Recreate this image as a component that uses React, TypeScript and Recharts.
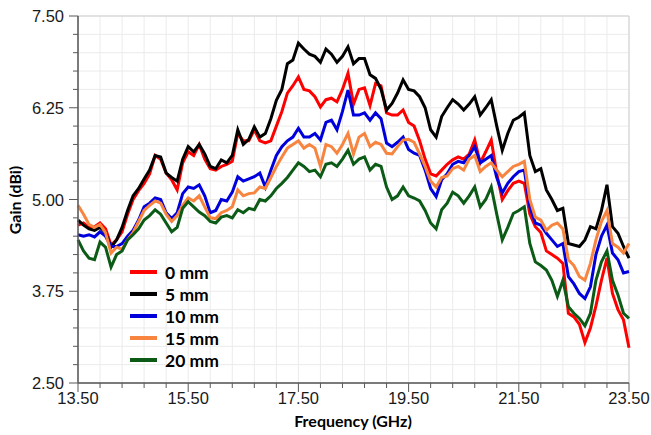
import { CartesianGrid, Legend, Line, LineChart, XAxis, YAxis } from "recharts";

const freq = [
  13.5, 13.6, 13.7, 13.8, 13.9, 14.0, 14.1, 14.2, 14.3, 14.4, 14.5, 14.6, 14.7, 14.8, 14.9,
  15.0, 15.1, 15.2, 15.3, 15.4, 15.5, 15.6, 15.7, 15.8, 15.9, 16.0, 16.1, 16.2, 16.3, 16.4,
  16.5, 16.6, 16.7, 16.8, 16.9, 17.0, 17.1, 17.2, 17.3, 17.4, 17.5, 17.6, 17.7, 17.8, 17.9,
  18.0, 18.1, 18.2, 18.3, 18.4, 18.5, 18.6, 18.7, 18.8, 18.9, 19.0, 19.1, 19.2, 19.3, 19.4,
  19.5, 19.6, 19.7, 19.8, 19.9, 20.0, 20.1, 20.2, 20.3, 20.4, 20.5, 20.6, 20.7, 20.8, 20.9,
  21.0, 21.1, 21.2, 21.3, 21.4, 21.5, 21.6, 21.7, 21.8, 21.9, 22.0, 22.1, 22.2, 22.3, 22.4,
  22.5, 22.6, 22.7, 22.8, 22.9, 23.0, 23.1, 23.2, 23.3, 23.4, 23.5,
];

const gain0mm = [
  4.65, 4.68, 4.62, 4.63, 4.68, 4.6, 4.38, 4.45, 4.56, 4.8, 5.0, 5.12, 5.22, 5.35, 5.6,
  5.55, 5.36, 5.27, 5.13, 5.5, 5.65, 5.6, 5.75, 5.55, 5.42, 5.4, 5.45, 5.48, 5.52, 5.9,
  5.8, 5.8, 5.95, 5.8, 5.77, 5.8, 6.0, 6.2, 6.45, 6.55, 6.67, 6.5, 6.48, 6.4, 6.26,
  6.36, 6.38, 6.33, 6.5, 6.72, 6.3, 6.5, 6.52, 6.28, 6.58, 6.55, 6.18, 6.15, 6.15, 6.22,
  6.05, 6.0, 5.8, 5.55, 5.35, 5.32, 5.4, 5.48, 5.54, 5.58, 5.55, 5.62, 5.81, 5.5, 5.65,
  5.81, 5.35, 5.0, 5.12, 5.22, 5.25, 5.22, 4.8, 4.63, 4.55, 4.3, 4.25, 4.2, 4.13, 3.45,
  3.4, 3.3, 3.05, 3.25, 3.55, 3.9, 4.2, 3.72, 3.5, 3.36, 2.98,
];

const gain5mm = [
  4.72, 4.65, 4.6, 4.58, 4.62, 4.55, 4.35, 4.45, 4.62, 4.85, 5.05, 5.15, 5.28, 5.4, 5.6,
  5.58, 5.36, 5.3, 5.25, 5.55, 5.72, 5.65, 5.75, 5.62, 5.45, 5.42, 5.54, 5.5, 5.6, 5.95,
  5.75, 5.82, 5.99, 5.85, 5.9, 6.1, 6.35, 6.5, 6.85, 6.9, 7.13, 7.05, 6.98, 6.95, 6.87,
  7.05, 6.98, 6.87, 6.95, 7.08, 6.85, 6.92, 6.92, 6.7, 6.65, 6.5, 6.22, 6.31, 6.45, 6.63,
  6.5, 6.48, 6.4, 6.25, 5.95, 5.85, 6.13, 6.25, 6.36, 6.3, 6.22, 6.3, 6.4, 6.15, 6.25,
  6.36, 6.0, 5.67, 5.9, 6.08, 6.12, 6.18, 5.6, 5.38, 5.42, 5.13, 5.0, 4.85, 4.88, 4.4,
  4.38, 4.36, 4.45, 4.63, 4.6, 4.85, 5.2, 4.63, 4.54, 4.36, 4.2,
];

const gain10mm = [
  4.52, 4.5, 4.52, 4.49, 4.56, 4.5, 4.36, 4.36, 4.4, 4.5, 4.58, 4.72, 4.9, 4.95, 5.02,
  5.0, 4.82, 4.74, 4.82, 5.08, 5.17, 5.15, 5.2, 5.05, 4.82, 4.85, 5.0, 4.98, 5.1, 5.31,
  5.25, 5.28, 5.31, 5.36, 5.17, 5.4, 5.6, 5.72, 5.8, 5.85, 5.97, 5.85, 5.85, 5.9, 5.81,
  6.05, 6.08, 5.95, 6.2, 6.49, 6.15, 6.15, 6.18, 6.08, 6.18, 6.1, 5.77, 5.72, 5.78, 5.85,
  5.68, 5.63, 5.6, 5.4, 5.15, 5.04, 5.27, 5.35, 5.48, 5.52, 5.5, 5.6, 5.72, 5.5, 5.55,
  5.6, 5.3, 5.09, 5.22, 5.31, 5.38, 5.4, 4.9, 4.68, 4.65, 4.54, 4.45, 4.36, 4.4, 3.95,
  3.85, 3.72, 3.65, 3.81, 4.25, 4.5, 4.65, 4.27, 4.18, 4.0, 4.02,
];

const gain15mm = [
  4.92, 4.8, 4.66, 4.62, 4.66, 4.55, 4.27, 4.35, 4.32, 4.45, 4.55, 4.7, 4.85, 4.92, 4.98,
  4.95, 4.8, 4.7, 4.78, 4.92, 5.02, 4.98, 5.05, 4.9, 4.75, 4.74, 4.82, 4.85, 4.9, 5.13,
  5.05, 5.08, 5.09, 5.17, 5.15, 5.3, 5.45, 5.58, 5.7, 5.75, 5.8, 5.7, 5.75, 5.7, 5.45,
  5.75, 5.72, 5.63, 5.75, 5.9, 5.62, 5.85, 5.9, 5.72, 5.78, 5.75, 5.63, 5.62, 5.72, 5.81,
  5.82, 5.78, 5.62, 5.45, 5.25, 5.17, 5.3, 5.32, 5.42, 5.45, 5.4, 5.55, 5.6, 5.38, 5.45,
  5.5, 5.4, 5.31, 5.38, 5.45, 5.48, 5.52, 5.0, 4.76, 4.72, 4.58, 4.65, 4.68, 4.6, 4.18,
  4.1, 3.95, 3.9, 4.13, 4.45, 4.7, 4.85, 4.4, 4.35, 4.27, 4.4,
];

const gain20mm = [
  4.45, 4.3, 4.2, 4.18, 4.42, 4.35, 4.08, 4.25, 4.3, 4.45, 4.52, 4.6, 4.72, 4.78, 4.86,
  4.8, 4.68, 4.56, 4.62, 4.88, 4.97, 4.9, 4.83, 4.78, 4.7, 4.68, 4.76, 4.78, 4.75, 4.86,
  4.82, 4.88, 4.86, 5.0, 4.98, 5.05, 5.15, 5.22, 5.3, 5.4, 5.5, 5.45, 5.38, 5.4, 5.31,
  5.48, 5.5, 5.45, 5.55, 5.67, 5.48, 5.55, 5.58, 5.4, 5.48, 5.45, 5.17, 5.0, 5.05, 5.17,
  5.05, 5.02, 4.98, 4.85, 4.68, 4.6, 4.86, 4.95, 5.1, 5.05, 4.95, 5.05, 5.17, 4.9, 5.0,
  5.17, 4.8, 4.45, 4.62, 4.81, 4.85, 4.9, 4.4, 4.15, 4.1, 4.04, 3.9, 3.68, 3.9, 3.54,
  3.45, 3.38, 3.28, 3.45, 3.9, 4.15, 4.3, 3.9, 3.7, 3.45, 3.38,
];

const xTicks = [
  13.5, 13.9, 14.3, 14.7, 15.1, 15.5, 15.9, 16.3, 16.7, 17.1, 17.5, 17.9, 18.3, 18.7, 19.1,
  19.5, 19.9, 20.3, 20.7, 21.1, 21.5, 21.9, 22.3, 22.7, 23.1, 23.5,
];
const xMajor = [13.5, 15.5, 17.5, 19.5, 21.5, 23.5];
const yTicks = [
  2.5, 2.75, 3.0, 3.25, 3.5, 3.75, 4.0, 4.25, 4.5, 4.75, 5.0, 5.25, 5.5, 5.75, 6.0, 6.25,
  6.5, 6.75, 7.0, 7.25, 7.5,
];
const yMajor = [2.5, 3.75, 5.0, 6.25, 7.5];

const series = [
  { key: "g0", name: "0 mm", color: "#ff0000", values: gain0mm },
  { key: "g5", name: "5 mm", color: "#000000", values: gain5mm },
  { key: "g10", name: "10 mm", color: "#0000dd", values: gain10mm },
  { key: "g15", name: "15 mm", color: "#f7843f", values: gain15mm },
  { key: "g20", name: "20 mm", color: "#0b5a16", values: gain20mm },
];

const data = freq.map((f, i) => {
  const row: Record<string, number> = { f };
  series.forEach((s) => (row[s.key] = s.values[i]));
  return row;
});

const isMajor = (v: number, list: number[]) => list.some((m) => Math.abs(m - v) < 1e-6);

const tickFont = "'Liberation Sans', Arial, sans-serif";
const titleFont = "Lato, 'Open Sans', sans-serif";

function XTick(props: any) {
  const { x, y, payload } = props;
  const major = isMajor(payload.value, xMajor);
  return (
    <g>
      <line x1={x} x2={x} y1={y} y2={y + (major ? 9 : 5)} stroke="#595959" strokeWidth={1} />
      {major && (
        <text x={x} y={y + 21} textAnchor="middle" fontSize={16.5} fontFamily={tickFont} fill="#1a1a1a">
          {payload.value.toFixed(2)}
        </text>
      )}
    </g>
  );
}

function YTick(props: any) {
  const { x, y, payload } = props;
  const major = isMajor(payload.value, yMajor);
  return (
    <g>
      <line x1={x - (major ? 9 : 5)} x2={x} y1={y} y2={y} stroke="#595959" strokeWidth={1} />
      {major && (
        <text x={x - 14} y={y + 6} textAnchor="end" fontSize={16.5} fontFamily={tickFont} fill="#1a1a1a">
          {payload.value.toFixed(2)}
        </text>
      )}
    </g>
  );
}

function LegendBox() {
  return (
    <div style={{ fontFamily: titleFont, fontWeight: 700, fontSize: 17.5, color: "#000" }}>
      {series.map((s) => (
        <div key={s.key} style={{ display: "flex", alignItems: "center", height: 22 }}>
          <span style={{ display: "inline-block", width: 27, height: 4, background: s.color, marginRight: 8 }} />
          <span>{s.name}</span>
        </div>
      ))}
    </div>
  );
}

export default function App() {
  return (
    <div style={{ position: "absolute", left: 0, top: 0, width: 651, height: 435, background: "#fff" }}>
      <LineChart width={651} height={435} data={data} margin={{ top: 16, right: 22, bottom: 0, left: 0 }}>
        <CartesianGrid stroke="#ebebeb" strokeWidth={1} />
        <CartesianGrid stroke="#cfcfcf" strokeWidth={1} xAxisId="top" yAxisId="right" />
        <XAxis
          dataKey="f"
          type="number"
          domain={[13.5, 23.5]}
          ticks={xTicks}
          interval={0}
          height={52}
          tickSize={0}
          tickMargin={0}
          tickLine={false}
          tick={<XTick />}
          axisLine={{ stroke: "#595959", strokeWidth: 1.5 }}
          label={{
            content: () => (
              <text x={353} y={427} textAnchor="middle" fontSize={16} fontWeight={700} fontFamily={titleFont} fill="#000">
                Frequency (GHz)
              </text>
            ),
          }}
        />
        <XAxis
          xAxisId="top"
          orientation="top"
          dataKey="f"
          type="number"
          domain={[13.5, 23.5]}
          ticks={xMajor}
          height={0}
          tick={false}
          tickLine={false}
          axisLine={{ stroke: "#6a6a6a", strokeWidth: 1.5 }}
        />
        <YAxis
          type="number"
          domain={[2.5, 7.5]}
          ticks={yTicks}
          interval={0}
          width={78}
          tickSize={0}
          tickMargin={0}
          tickLine={false}
          tick={<YTick />}
          axisLine={{ stroke: "#595959", strokeWidth: 1.5 }}
          label={{
            content: () => (
              <text
                x={21}
                y={200}
                transform="rotate(-90, 21, 200)"
                textAnchor="middle"
                fontSize={16}
                fontWeight={700}
                fontFamily={titleFont}
                fill="#000"
              >
                Gain (dBi)
              </text>
            ),
          }}
        />
        <YAxis
          yAxisId="right"
          orientation="right"
          type="number"
          domain={[2.5, 7.5]}
          ticks={yMajor}
          width={0}
          tick={false}
          tickLine={false}
          axisLine={{ stroke: "#8a8a8a", strokeWidth: 1.5 }}
        />
        {series.map((s) => (
          <Line
            key={s.key}
            dataKey={s.key}
            name={s.name}
            type="linear"
            stroke={s.color}
            strokeWidth={3}
            dot={false}
            isAnimationActive={false}
          />
        ))}
        <Legend
          layout="vertical"
          align="center"
          verticalAlign="middle"
          content={<LegendBox />}
          wrapperStyle={{ left: 130, top: 261, width: 120 }}
        />
      </LineChart>
    </div>
  );
}
